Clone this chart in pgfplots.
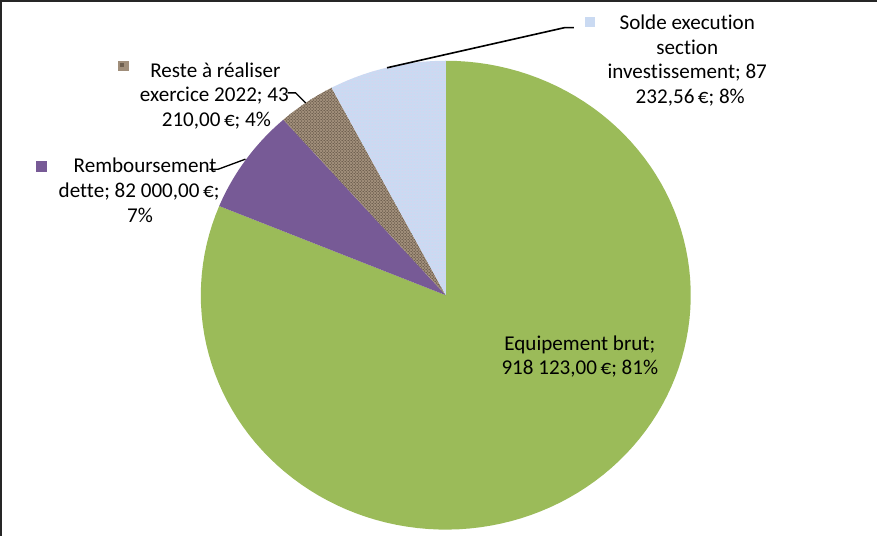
\documentclass[border=0pt]{standalone}
\usepackage{pgfplots}
\pgfplotsset{compat=1.18}
\usepackage{fontspec}
\setmainfont{Carlito}[Ligatures={NoCommon}]
\usetikzlibrary{patterns}

% values in euros
\def\vEquip{918123.00}
\def\vRemb{82000.00}
\def\vReste{43210.00}
\def\vSolde{87232.56}
\edef\vTot{\fpeval{\vEquip+\vRemb+\vReste+\vSolde}}
% slice boundaries, clockwise from 12 o'clock
\edef\aA{90}
\edef\aB{\fpeval{90-360*\vEquip/\vTot}}
\edef\aC{\fpeval{\aB-360*\vRemb/\vTot}}
\edef\aD{\fpeval{\aC-360*\vReste/\vTot}}
\edef\aE{\fpeval{\aD-360*\vSolde/\vTot}}

\definecolor{cgreen}{HTML}{9BBB59}
\definecolor{cpurple}{HTML}{775A96}
\definecolor{cbrown}{HTML}{A08E7A}
\definecolor{cbrowndk}{HTML}{3E3226}
\definecolor{cblue}{HTML}{CADAF2}
\definecolor{cpink}{HTML}{E4CFEA}

\newcommand{\lbl}[3]{\node[anchor=base,inner sep=0pt] at (#1,#2) {#3};}

\begin{document}
\begin{tikzpicture}
\begin{axis}[
  width=878bp, height=539bp, scale only axis,
  xmin=0, xmax=878, ymin=0, ymax=539, y dir=reverse,
  hide axis, clip=false,
  every axis plot/.append style={draw=none, samples=120, variable=\t},
  font=\fontsize{21bp}{24.5bp}\selectfont,
]
% frame (top and left edges)
\draw[line width=2bp, black!85] (5.5,539) -- (5.5,6.5) -- (878,6.5);

% slices
\addplot[fill=cgreen, domain=\aB:\aA]
  ({448.5+244*cos(\t)}, {299.5-233.5*sin(\t)}) -- (448.5,299.5) -- cycle;
\addplot[fill=cpurple, domain=\aC:\aB]
  ({448.5+244*cos(\t)}, {299.5-233.5*sin(\t)}) -- (448.5,299.5) -- cycle;
\addplot[fill=cbrown, postaction={pattern=crosshatch dots, pattern color=cbrowndk}, domain=\aD:\aC]
  ({448.5+244*cos(\t)}, {299.5-233.5*sin(\t)}) -- (448.5,299.5) -- cycle;
\addplot[fill=cblue, postaction={pattern=dots, pattern color=cpink}, domain=\aE:\aD]
  ({448.5+244*cos(\t)}, {299.5-233.5*sin(\t)}) -- (448.5,299.5) -- cycle;

% leader lines
\draw[line width=1.6bp, black] (390,73) -- (567,33) -- (576,33);
\draw[line width=1.3bp, black] (291,98) -- (299,98) -- (309,108);
\draw[line width=1.3bp, black] (213,174) -- (222,174) -- (249,164);

% legend keys
\fill[cblue] (587,22) rectangle (597,32);
\fill[cbrown] (122,66) rectangle (133,76);
\fill[cbrowndk, opacity=0.5] (124,68) rectangle (128,72);
\fill[cpurple] (40,166) rectangle (51,177);

% labels
\lbl{689}{35}{Solde execution}
\lbl{689}{59.5}{section}
\lbl{689}{84}{investissement; 87}
\lbl{692}{108.5}{232,56\,€; 8\%}

\lbl{219}{83}{Reste à réaliser}
\lbl{218}{107}{exercice 2022; 43}
\lbl{220}{131}{210,00\,€; 4\%}

\lbl{149}{177}{Remboursement}
\lbl{143}{202.5}{dette; 82 000,00\,€;}
\lbl{144}{227}{7\%}

\lbl{582}{355}{Equipement brut;}
\lbl{582}{378.5}{918 123,00\,€; 81\%}
\end{axis}
\end{tikzpicture}
\end{document}
